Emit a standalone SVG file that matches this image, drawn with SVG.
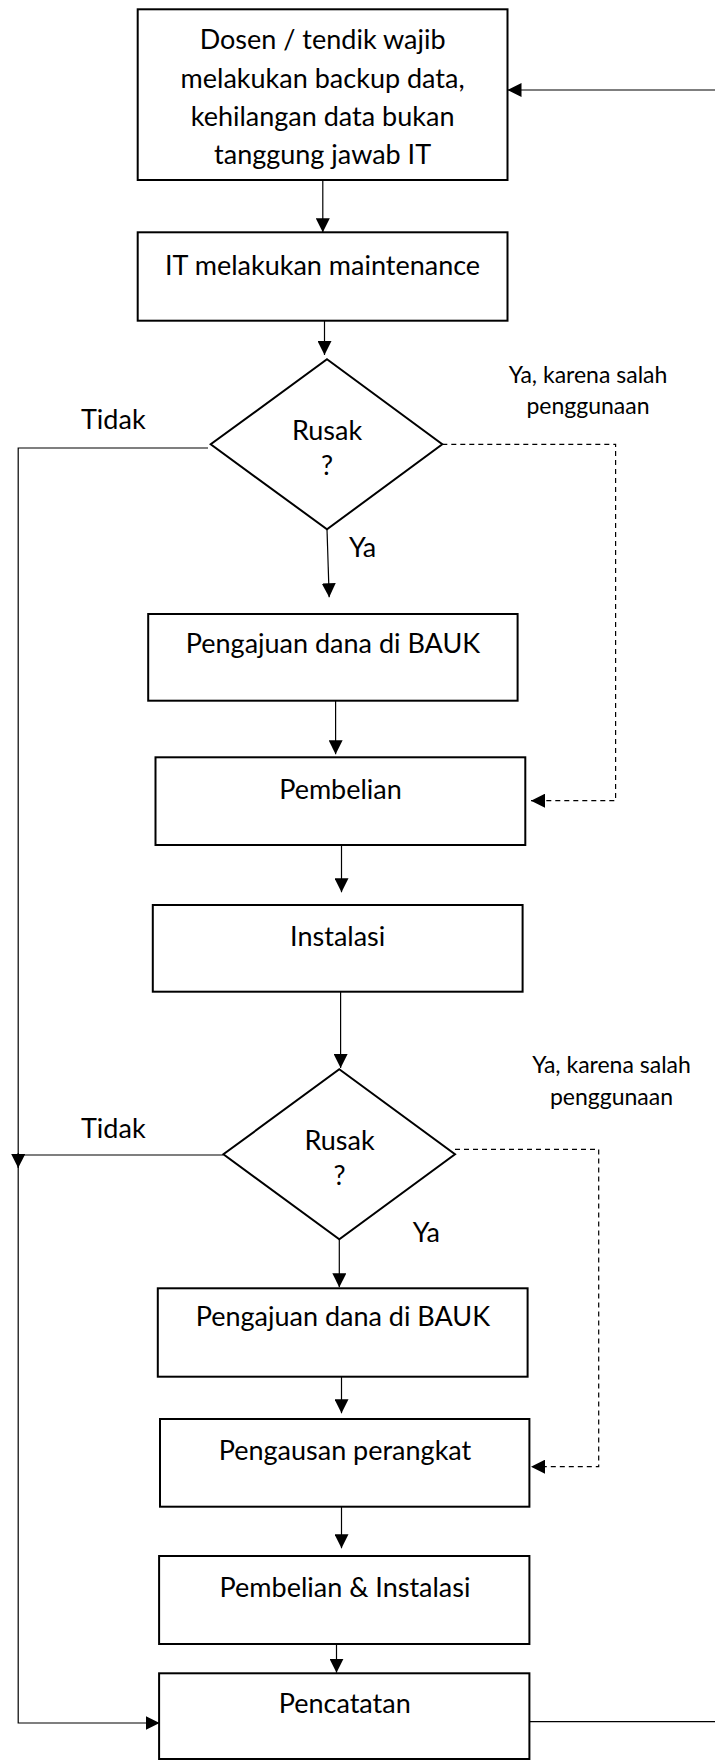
<svg xmlns="http://www.w3.org/2000/svg" width="715" height="1760" viewBox="0 0 715 1760">
<style>
.box{fill:#fff;stroke:#000;stroke-width:2}
.t{font-family:Lato,"Liberation Sans",sans-serif;font-size:27px;fill:#000;text-anchor:middle}
.s{font-family:Lato,"Liberation Sans",sans-serif;font-size:23px;fill:#000;text-anchor:middle}
.l{font-family:Lato,"Liberation Sans",sans-serif;font-size:27px;fill:#000}
.c{fill:none;stroke:#000;stroke-width:1.2}
.d{fill:none;stroke:#000;stroke-width:1.2;stroke-dasharray:5,4}
</style>
<defs>
<marker id="ah" markerUnits="userSpaceOnUse" markerWidth="14" markerHeight="14" refX="14" refY="7" orient="auto" viewBox="0 0 14 14">
<path d="M0,0 L14,7 L0,14 z" fill="#000"/>
</marker>
</defs>
<rect width="715" height="1760" fill="#fff"/>
<g id="connectors">
<path class="c" d="M715,90 L507.5,90" marker-end="url(#ah)"/>
<path class="c" d="M322.8,180 L322.8,232.3" marker-end="url(#ah)"/>
<path class="c" d="M324.5,320.7 L324.5,355" marker-end="url(#ah)"/>
<path class="c" d="M208,448 L18.2,448 L18.2,1723 L159.6,1723" marker-end="url(#ah)"/>
<path class="d" d="M442.3,444.3 L615.6,444.3 L615.6,800.7 L531,800.7" marker-end="url(#ah)"/>
<path class="c" d="M327,529.3 L329.2,597.3" marker-end="url(#ah)"/>
<path class="c" d="M335.6,700.7 L335.6,754.3" marker-end="url(#ah)"/>
<path class="c" d="M341.5,845 L341.5,892.3" marker-end="url(#ah)"/>
<path class="c" d="M340.6,992 L340.6,1068" marker-end="url(#ah)"/>
<path class="c" d="M223.4,1155 L18.2,1155"/>
<path class="c" d="M18.2,1153 L18.2,1168" marker-end="url(#ah)"/>
<path class="d" d="M455,1149.3 L598.7,1149.3 L598.7,1466.7 L531,1466.7" marker-end="url(#ah)"/>
<path class="c" d="M339.3,1239.3 L339.3,1287.3" marker-end="url(#ah)"/>
<path class="c" d="M341.5,1377 L341.5,1413.3" marker-end="url(#ah)"/>
<path class="c" d="M341.5,1507 L341.5,1548.3" marker-end="url(#ah)"/>
<path class="c" d="M336.5,1644 L336.5,1672.7" marker-end="url(#ah)"/>
<path class="c" d="M529.4,1721.7 L715,1721.7"/>
</g>
<g id="n1">
<rect class="box" x="137.7" y="9.3" width="369.8" height="170.7"/>
<text class="t" x="322.6" y="49.3">Dosen / tendik wajib</text>
<text class="t" x="322.6" y="87.5">melakukan backup data,</text>
<text class="t" x="322.6" y="125.8">kehilangan data bukan</text>
<text class="t" x="322.6" y="164.1">tanggung jawab IT</text>
</g>
<g id="n2">
<rect class="box" x="137.7" y="232.3" width="369.8" height="88.4"/>
<text class="t" x="322.6" y="275">IT melakukan maintenance</text>
</g>
<g id="d1">
<polygon class="box" points="327,359.3 442.3,444.3 327,529.3 210.7,444.3"/>
<text class="t" x="327" y="440">Rusak</text>
<text class="t" x="327" y="475">?</text>
</g>
<g id="n3">
<rect class="box" x="148.2" y="614" width="369.4" height="86.7"/>
<text class="t" x="333" y="653.3">Pengajuan dana di BAUK</text>
</g>
<g id="n4">
<rect class="box" x="155.5" y="757.3" width="369.8" height="87.7"/>
<text class="t" x="340.5" y="799.3">Pembelian</text>
</g>
<g id="n5">
<rect class="box" x="152.8" y="905" width="369.8" height="86.7"/>
<text class="t" x="337.7" y="946">Instalasi</text>
</g>
<g id="d2">
<polygon class="box" points="339.3,1069.3 455,1154.3 339.3,1239.3 223.4,1154.3"/>
<text class="t" x="339.5" y="1150">Rusak</text>
<text class="t" x="339.5" y="1185">?</text>
</g>
<g id="n6">
<rect class="box" x="157.8" y="1288.3" width="369.8" height="88.4"/>
<text class="t" x="342.9" y="1326">Pengajuan dana di BAUK</text>
</g>
<g id="n7">
<rect class="box" x="160" y="1419" width="369.4" height="87.7"/>
<text class="t" x="345" y="1460">Pengausan perangkat</text>
</g>
<g id="n8">
<rect class="box" x="159.1" y="1556" width="370.3" height="88"/>
<text class="t" x="345" y="1597.3">Pembelian &amp; Instalasi</text>
</g>
<g id="n9">
<rect class="box" x="159.1" y="1673.3" width="370.3" height="85.7"/>
<text class="t" x="344.7" y="1713.3">Pencatatan</text>
</g>
<g id="labels">
<text class="l" x="81" y="429.3">Tidak</text>
<text class="l" x="349" y="557.3">Ya</text>
<text class="s" x="588" y="382.7">Ya, karena salah</text>
<text class="s" x="588" y="414">penggunaan</text>
<text class="l" x="81" y="1138.3">Tidak</text>
<text class="l" x="412.7" y="1241.7">Ya</text>
<text class="s" x="611.5" y="1073.3">Ya, karena salah</text>
<text class="s" x="611.5" y="1105">penggunaan</text>
</g>
</svg>
